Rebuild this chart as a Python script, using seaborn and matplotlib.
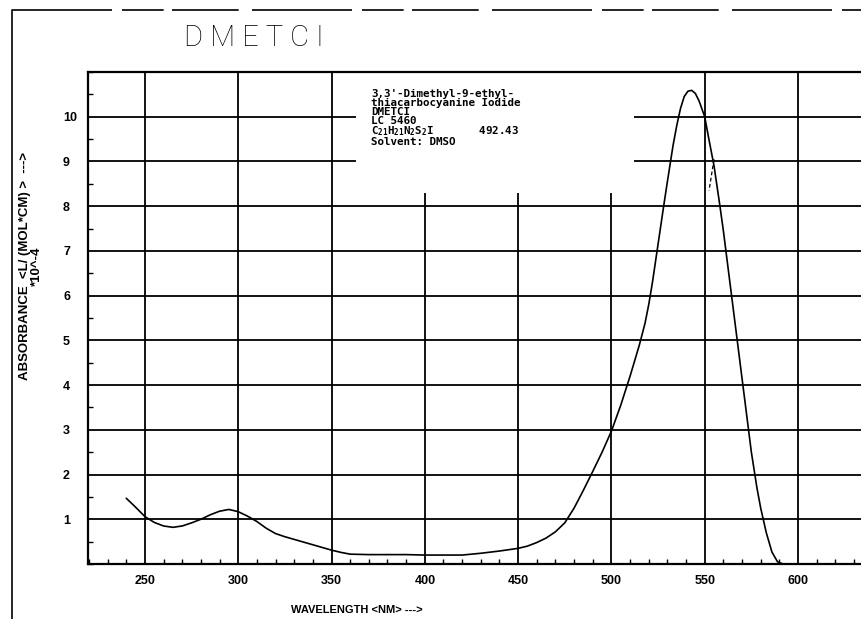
import matplotlib
matplotlib.use("Agg")
import matplotlib.pyplot as plt
from matplotlib.lines import Line2D
from matplotlib.patches import Rectangle
from matplotlib.ticker import MultipleLocator
import seaborn as sns

# UV-Vis absorption spectrum of DMETCI in DMSO
wavelength = [240, 245, 250, 255, 260, 265, 270, 275, 280, 285, 290, 295, 300,
              305, 310, 315, 320, 325, 330, 335, 340, 345, 350, 355, 360, 370,
              380, 390, 400, 410, 420, 430, 440, 450, 455, 460, 465, 470, 475,
              480, 485, 490, 495, 500, 505, 510, 515, 518, 520, 522, 525, 528,
              530, 533, 535, 537, 539, 541, 543, 545, 547, 550, 552, 555, 558,
              560, 565, 570, 575, 578, 580, 583, 586, 589, 592, 600]
absorbance = [1.47, 1.27, 1.06, 0.93, 0.85, 0.82, 0.85, 0.92, 1.00, 1.10, 1.18,
              1.22, 1.17, 1.07, 0.95, 0.80, 0.68, 0.61, 0.55, 0.49, 0.43, 0.37,
              0.31, 0.26, 0.22, 0.21, 0.21, 0.21, 0.20, 0.20, 0.20, 0.24, 0.29,
              0.35, 0.40, 0.48, 0.58, 0.72, 0.92, 1.25, 1.65, 2.07, 2.50, 2.97,
              3.55, 4.20, 4.90, 5.38, 5.80, 6.30, 7.15, 8.00, 8.55, 9.35, 9.80,
              10.18, 10.45, 10.57, 10.59, 10.52, 10.35, 10.00, 9.55, 8.90, 8.05,
              7.45, 5.80, 4.15, 2.50, 1.70, 1.25, 0.70, 0.27, 0.05, 0.00, 0.00]

# short dashed trace next to the main band
dash_wavelength = [555.0, 552.3]
dash_absorbance = [9.05, 8.35]

x_ticks = [250, 300, 350, 400, 450, 500, 550, 600]
y_ticks = [1, 2, 3, 4, 5, 6, 7, 8, 9, 10]

info_lines = ["3,3'-Dimethyl-9-ethyl-",
              "thiacarbocyanine Iodide",
              "DMETCI",
              "LC 5460",
              r"$\mathrm{C_{21}H_{21}N_{2}S_{2}I}$       492.43",
              "Solvent: DMSO"]

sns.set_theme(style="white")
plt.rcParams["font.family"] = ["Liberation Sans", "DejaVu Sans"]
plt.rcParams["mathtext.fontset"] = "custom"
plt.rcParams["mathtext.rm"] = "DejaVu Sans Mono:bold"
plt.rcParams["mathtext.it"] = "DejaVu Sans Mono:bold"
plt.rcParams["mathtext.bf"] = "DejaVu Sans Mono:bold"

W, H = 861, 619
PX_PER_NM = 1.866
fig = plt.figure(figsize=(W / 100, H / 100), dpi=100)
fig.patch.set_facecolor("white")

def fx(px):
    return px / W

def fy(py):
    return 1 - py / H

ax = fig.add_axes([fx(88), 55 / H, (W - 88) / W, 492 / H])
ax.set_facecolor("white")

sns.lineplot(x=wavelength, y=absorbance, ax=ax, color="black", lw=1.2,
             estimator=None, zorder=3)
ax.plot(dash_wavelength, dash_absorbance, color="black", lw=0.9,
        ls=(0, (3, 2)), zorder=3)

ax.set_xlim(219.5, 219.5 + (W - 88) / PX_PER_NM)
ax.set_ylim(0, 11)
ax.set_xticks(x_ticks)
ax.set_yticks(y_ticks)
ax.xaxis.set_minor_locator(MultipleLocator(10))
ax.yaxis.set_minor_locator(MultipleLocator(0.5))

ax.set_axisbelow(True)
ax.grid(True, which="major", color="black", lw=1.3)
ax.grid(False, which="minor")

# blank panel behind the compound description
ax.add_patch(Rectangle((363, 8.3), 149, 2.7, facecolor="white",
                       edgecolor="none", zorder=1))

for side in ["left", "bottom", "top"]:
    ax.spines[side].set_visible(True)
    ax.spines[side].set_color("black")
    ax.spines[side].set_linewidth(1.6)
ax.spines["right"].set_visible(False)

ax.tick_params(axis="both", which="major", direction="in", length=0)
ax.tick_params(axis="x", which="major", pad=8, labelsize=9)
ax.tick_params(axis="y", which="major", pad=18, labelsize=9)
ax.tick_params(axis="both", which="minor", direction="in", length=3.5,
               width=1.0, color="black", bottom=True, left=True)
for lab in ax.get_xticklabels() + ax.get_yticklabels():
    lab.set_fontweight("bold")
    lab.set_color("black")
for lab in ax.get_yticklabels():
    lab.set_horizontalalignment("left")

ax.set_xlabel("")
ax.set_ylabel("")
fig.text(fx(357), fy(610), "WAVELENGTH <NM> --->", ha="center", va="center",
         fontsize=8, fontweight="bold", color="black")
fig.text(fx(31), fy(266), "ABSORBANCE  <L/ (MOL*CM) >  --->\n*10^-4",
         rotation=90, ha="center", va="center", multialignment="center",
         fontsize=9.5, fontweight="bold", color="black", linespacing=1.0)

# title
fig.text(fx(254), fy(38), "D M E T C I", ha="center", va="center",
         fontsize=21, fontweight="light", family=["Roboto", "DejaVu Sans"],
         color="black")

# compound description block
fig.text(fx(371), fy(89), "\n".join(info_lines),
         family=["DejaVu Sans Mono"], fontweight="bold", fontsize=7.8,
         color="black", ha="left", va="top", linespacing=0.87)

# sheet border
fig.add_artist(Line2D([fx(12), fx(12)], [0, fy(10)], color="black", lw=1.2,
                      transform=fig.transFigure))
fig.add_artist(Line2D([fx(12), 1], [fy(9.5), fy(9.5)], color="black", lw=1.2,
                      ls=(0, (60, 6, 25, 5, 40, 8)), transform=fig.transFigure))

fig.savefig("out.png", dpi=100, facecolor="white")
